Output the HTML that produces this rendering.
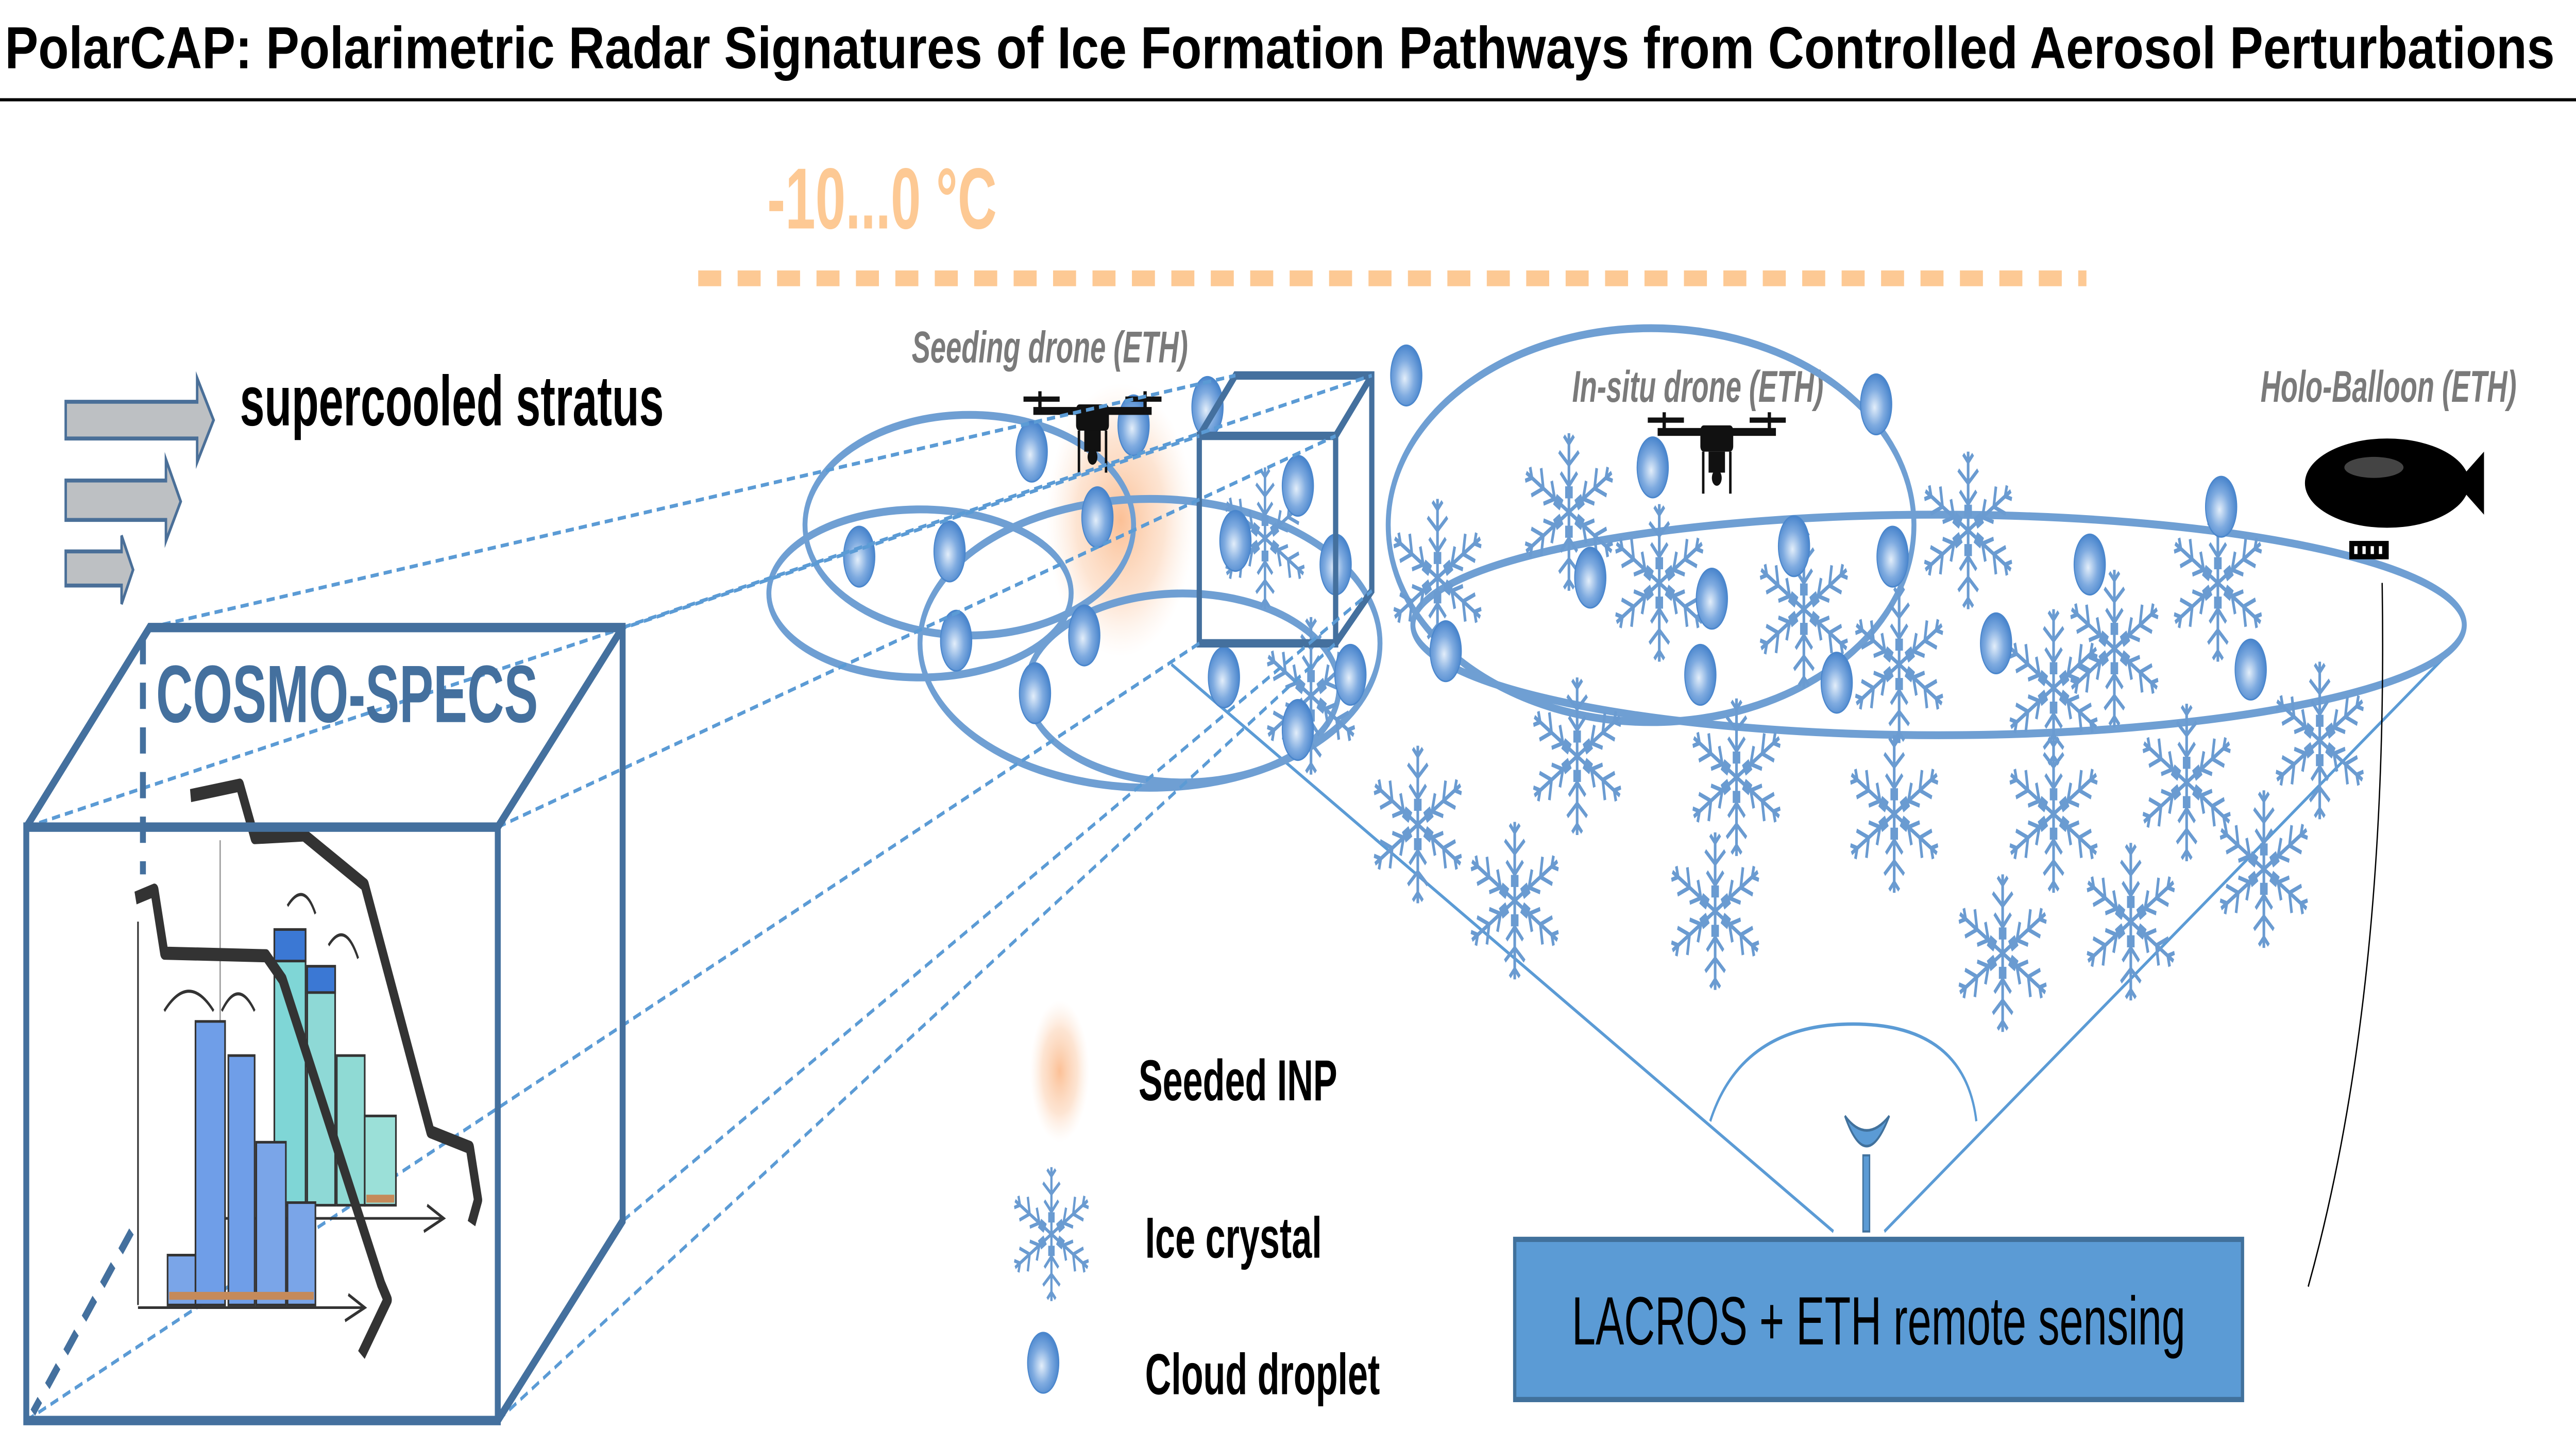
<!DOCTYPE html>
<html><head><meta charset="utf-8"><style>
html,body{margin:0;padding:0;background:#fff;overflow:hidden;width:100vw;height:100vh;}
svg{display:block;width:100vw;height:100vh;}
text{font-family:"Liberation Sans",Arial,sans-serif;}
</style></head><body>
<svg viewBox="0 0 1568 544.6" preserveAspectRatio="none" xmlns="http://www.w3.org/2000/svg">
<defs>
<radialGradient id="drop" cx="0.45" cy="0.55" r="0.6">
<stop offset="0" stop-color="#e3eefa"/><stop offset="0.5" stop-color="#7fabe0"/><stop offset="1" stop-color="#3f7ec9"/>
</radialGradient>
<radialGradient id="glow" cx="0.5" cy="0.5" r="0.5">
<stop offset="0" stop-color="#fbb98a" stop-opacity="0.9"/><stop offset="0.6" stop-color="#fcd3b5" stop-opacity="0.6"/><stop offset="1" stop-color="#fde6d6" stop-opacity="0"/>
</radialGradient>
<g id="arm" fill="none" stroke="#6a9bd1" stroke-width="1.6">
<line x1="0" y1="0" x2="0" y2="-30"/>
<polyline points="-5,-15 0,-10 5,-15"/>
<polyline points="-6,-23 0,-18 6,-23"/>
<polyline points="-3,-29 0,-26 3,-29"/>
<rect x="-1.5" y="-9" width="3" height="3"/>
</g>
<g id="flake">
<use href="#arm"/><use href="#arm" transform="rotate(60)"/><use href="#arm" transform="rotate(120)"/>
<use href="#arm" transform="rotate(180)"/><use href="#arm" transform="rotate(240)"/><use href="#arm" transform="rotate(300)"/>
</g>
<g id="d"><ellipse cx="0" cy="0" rx="9.5" ry="11.5" fill="url(#drop)" stroke="#4a86cc" stroke-width="0.6"/></g>
<g id="drone" fill="#111">
<rect x="-10" y="-6" width="20" height="10" rx="2"/>
<rect x="-36" y="-5" width="72" height="3"/>
<rect x="-42" y="-9" width="22" height="2"/><rect x="20" y="-9" width="22" height="2"/>
<rect x="-33" y="-11" width="2" height="8"/><rect x="31" y="-11" width="2" height="8"/>
<rect x="-5" y="4" width="10" height="8"/>
<circle cx="0" cy="14" r="3"/>
<rect x="-9" y="4" width="1.5" height="16"/><rect x="7.5" y="4" width="1.5" height="16"/>
</g>
</defs>

<text x="3" y="26" font-size="22.5" font-weight="bold" fill="#000" textLength="1552" lengthAdjust="spacingAndGlyphs">PolarCAP: Polarimetric Radar Signatures of Ice Formation Pathways from Controlled Aerosol Perturbations</text>
<line x1="0" y1="38" x2="1568" y2="38" stroke="#000" stroke-width="1.2"/>

<text x="467" y="87" font-size="33" font-weight="bold" fill="#fdc994">-10...0 °C</text>
<line x1="425" y1="106" x2="1270" y2="106" stroke="#fdc994" stroke-width="6" stroke-dasharray="14,10"/>

<g fill="#bdc0c3" stroke="#4a6f98" stroke-width="1.5">
<polygon points="40,153 120,153 120,144 130,160 120,176 120,167 40,167"/>
<polygon points="40,183 101,183 101,175 110,191 101,206 101,198 40,198"/>
<polygon points="40,210 74,210 74,204 81,217 74,230 74,223 40,223"/>
</g>
<text x="146" y="162" font-size="27" font-weight="bold" fill="#000">supercooled stratus</text>

<text x="555" y="138" font-size="17" font-weight="bold" font-style="italic" fill="#7a7a7a">Seeding drone (ETH)</text>
<text x="957" y="153" font-size="17" font-weight="bold" font-style="italic" fill="#7a7a7a">In-situ drone (ETH)</text>
<text x="1376" y="153" font-size="17" font-weight="bold" font-style="italic" fill="#7a7a7a">Holo-Balloon (ETH)</text>

<g fill="none" stroke="#5b9bd5" stroke-width="1.3">
<line x1="713" y1="253" x2="1116" y2="469"/>
<line x1="1493" y1="247" x2="1147" y2="469"/>
<path d="M1041,427 Q1060,390 1128,390 Q1196,390 1203,427"/>
</g>
<path d="M1123,425 Q1136,448 1150,425 Q1136,436 1123,425 Z" fill="#5b9bd5" stroke="#41719c" stroke-width="1"/>
<rect x="1134" y="440" width="4" height="29" fill="#5b9bd5" stroke="#41719c" stroke-width="0.8"/>

<ellipse cx="682" cy="198" rx="45" ry="52" fill="url(#glow)"/>

<g fill="none" stroke="#6f9fd3" stroke-width="3">
<ellipse cx="590" cy="200" rx="100" ry="42"/>
<ellipse cx="560" cy="226" rx="92" ry="32"/>
<ellipse cx="700" cy="245" rx="140" ry="55"/>
<ellipse cx="720" cy="262" rx="95" ry="36"/>
<ellipse cx="1005" cy="200" rx="160" ry="75"/>
<ellipse cx="1180" cy="238" rx="320" ry="42"/>
</g>

<g>
<use href="#flake" transform="translate(770,205) scale(0.9)"/>
<use href="#flake" transform="translate(798,265)"/>
<use href="#flake" transform="translate(875,220)"/>
<use href="#flake" transform="translate(955,195)"/>
<use href="#flake" transform="translate(1010,222)"/>
<use href="#flake" transform="translate(1098,232)"/>
<use href="#flake" transform="translate(1198,202)"/>
<use href="#flake" transform="translate(1250,262)"/>
<use href="#flake" transform="translate(1350,222)"/>
<use href="#flake" transform="translate(1156,253)"/>
<use href="#flake" transform="translate(1287,247)"/>
<use href="#flake" transform="translate(863,314)"/>
<use href="#flake" transform="translate(922,343)"/>
<use href="#flake" transform="translate(960,288)"/>
<use href="#flake" transform="translate(1057,296)"/>
<use href="#flake" transform="translate(1044,347)"/>
<use href="#flake" transform="translate(1153,310)"/>
<use href="#flake" transform="translate(1250,310)"/>
<use href="#flake" transform="translate(1219,363)"/>
<use href="#flake" transform="translate(1297,351)"/>
<use href="#flake" transform="translate(1331,298)"/>
<use href="#flake" transform="translate(1378,331)"/>
<use href="#flake" transform="translate(1412,282)"/>
</g>

<g>
<use href="#d" x="578" y="210"/><use href="#d" x="628" y="172"/><use href="#d" x="690" y="162"/>
<use href="#d" x="668" y="197"/><use href="#d" x="735" y="155"/><use href="#d" x="752" y="206"/>
<use href="#d" x="790" y="185"/><use href="#d" x="813" y="215"/><use href="#d" x="523" y="212"/>
<use href="#d" x="582" y="244"/><use href="#d" x="660" y="242"/><use href="#d" x="630" y="264"/>
<use href="#d" x="745" y="258"/><use href="#d" x="790" y="278"/><use href="#d" x="822" y="257"/>
<use href="#d" x="856" y="143"/><use href="#d" x="1006" y="178"/><use href="#d" x="1142" y="154"/>
<use href="#d" x="968" y="220"/><use href="#d" x="1042" y="228"/><use href="#d" x="1118" y="260"/>
<use href="#d" x="1152" y="212"/><use href="#d" x="1215" y="245"/><use href="#d" x="1272" y="215"/>
<use href="#d" x="1352" y="193"/><use href="#d" x="1370" y="255"/><use href="#d" x="880" y="248"/>
<use href="#d" x="1035" y="257"/><use href="#d" x="1092" y="208"/>
</g>

<g fill="none" stroke="#44709e" stroke-width="3.2">
<rect x="730" y="166" width="83" height="79"/>
<polyline points="730,166 752,143 835,143 835,225 813,245"/>
<line x1="813" y1="166" x2="835" y2="143"/>
</g>

<use href="#drone" transform="translate(665,160)"/>
<use href="#drone" transform="translate(1045,168)"/>

<path d="M1450,222 C1452,300 1445,400 1405,490" fill="none" stroke="#000" stroke-width="0.8"/>
<ellipse cx="1453" cy="184" rx="50" ry="17" fill="#000"/>
<polygon points="1495,184 1512,172 1512,196" fill="#000"/>
<rect x="1430" y="206" width="24" height="7" fill="#000"/>
<g fill="#fff"><rect x="1433" y="208" width="2" height="3"/><rect x="1438" y="208" width="2" height="3"/><rect x="1443" y="208" width="2" height="3"/><rect x="1448" y="208" width="2" height="3"/></g>
<ellipse cx="1445" cy="178" rx="18" ry="4" fill="#444"/>

<g stroke="#5b9bd5" stroke-width="1.4" stroke-dasharray="5,3" fill="none">
<line x1="16" y1="315" x2="730" y2="166"/>
<line x1="91" y1="239" x2="752" y2="143"/>
<line x1="303" y1="315" x2="813" y2="166"/>
<line x1="379" y1="239" x2="835" y2="143"/>
<line x1="303" y1="541" x2="813" y2="245"/>
<line x1="16" y1="541" x2="730" y2="245"/>
<line x1="379" y1="465" x2="835" y2="225"/>
</g>

<g>
<line x1="84" y1="351" x2="84" y2="497" stroke="#333" stroke-width="1"/>
<line x1="84" y1="498" x2="222" y2="498" stroke="#333" stroke-width="1"/>
<path d="M212,493 L222,498 L210,503" fill="none" stroke="#333" stroke-width="1.2"/>
<line x1="134" y1="320" x2="134" y2="464" stroke="#999" stroke-width="0.8"/>
<line x1="134" y1="464" x2="270" y2="464" stroke="#333" stroke-width="1"/>
<path d="M260,459 L270,464 L258,469" fill="none" stroke="#333" stroke-width="1.2"/>
<g stroke="#333" stroke-width="1">
<rect x="167" y="354" width="19" height="105" fill="#7fd6d6"/>
<rect x="187" y="368" width="17" height="91" fill="#8ed9d6"/>
<rect x="205" y="402" width="17" height="57" fill="#8fdad4"/>
<rect x="222" y="425" width="19" height="34" fill="#9be0d8"/>
<rect x="167" y="354" width="19" height="12" fill="#3b78d4"/>
<rect x="187" y="368" width="17" height="10" fill="#3b78d4"/>
<rect x="102" y="478" width="17" height="19" fill="#7aa5e8"/>
<rect x="119" y="389" width="18" height="108" fill="#6f9ee8"/>
<rect x="139" y="402" width="16" height="95" fill="#6f9ee8"/>
<rect x="156" y="435" width="18" height="62" fill="#7aa5e8"/>
<rect x="175" y="458" width="17" height="39" fill="#7aa5e8"/>
</g>
<g fill="#c58a5a"><rect x="103" y="492" width="88" height="3"/><rect x="223" y="455" width="17" height="3"/></g>
<path d="M100,385 Q115,370 130,385 M135,385 Q145,372 155,385 M175,345 Q185,335 192,348 M200,360 Q210,350 218,365" fill="none" stroke="#333" stroke-width="1.2"/>
<polyline points="82.5,342 94,339 100,363 162,364 172,373 232,489 236,495 220,516" fill="none" stroke="#333" stroke-width="5" stroke-linejoin="round"/>
<polyline points="116,303 146,299 155,319 185,318 222,337 262,431 286,437 291,457 287,466" fill="none" stroke="#333" stroke-width="5" stroke-linejoin="round"/>
</g>

<g fill="none" stroke="#44709e" stroke-width="3.6">
<rect x="16" y="315" width="287" height="226"/>
<polyline points="16,315 91,239 379,239 379,465 303,541"/>
<line x1="303" y1="315" x2="379" y2="239"/>
</g>
<g stroke="#44709e" stroke-width="3.6" stroke-dasharray="10,7" fill="none">
<line x1="87" y1="243" x2="87" y2="333"/>
<line x1="80" y1="469" x2="20" y2="538"/>
</g>
<text x="95" y="275" font-size="31" font-weight="bold" fill="#44709e">COSMO-SPECS</text>

<ellipse cx="645" cy="408" rx="18" ry="27" fill="url(#glow)"/>
<text x="693" y="419" font-size="22" font-weight="bold" fill="#000">Seeded INP</text>
<use href="#flake" transform="translate(640,470) scale(0.85)"/>
<text x="697" y="479" font-size="22" font-weight="bold" fill="#000">Ice crystal</text>
<use href="#d" x="635" y="519"/>
<text x="697" y="531" font-size="22" font-weight="bold" fill="#000">Cloud droplet</text>

<rect x="922" y="472" width="443" height="61" fill="#5b9bd5" stroke="#41719c" stroke-width="2"/>
<text x="1143.5" y="512" font-size="26" fill="#000" text-anchor="middle">LACROS + ETH remote sensing</text>
</svg>
</body></html>
